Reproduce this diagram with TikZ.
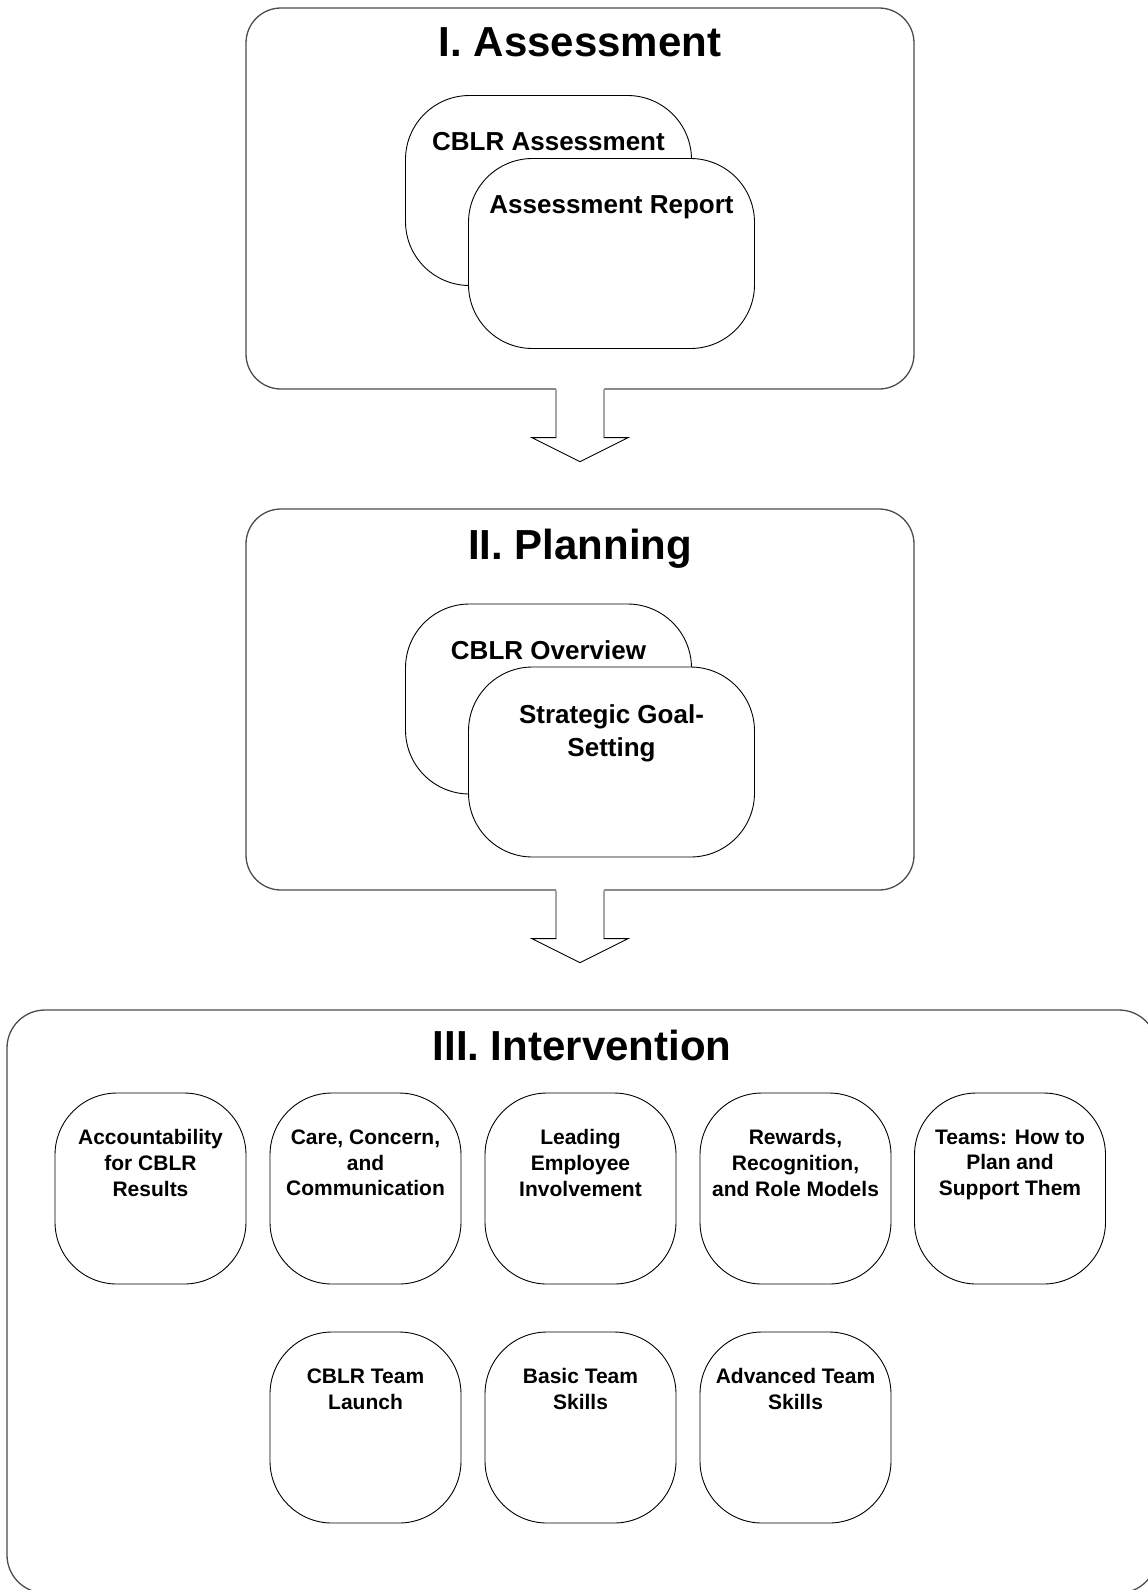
\documentclass[tikz,border=0pt]{standalone}
\usepackage{fontspec}
\setmainfont{Liberation Sans}
\usetikzlibrary{calc,positioning}
\tikzset{
  phase box/.style={rectangle,draw=black!70,fill=white,line width=1.3pt,
    rounded corners=35pt,inner sep=0pt,minimum width=668pt,minimum height=381pt},
  phase title/.style={inner sep=0pt,font=\fontsize{42}{50}\selectfont\bfseries},
  phase arrow/.style={draw=black,line width=0.9pt,line join=miter},
  part box/.style={rectangle,draw=black,fill=white,line width=0.9pt,
    rounded corners=64pt,inner sep=0pt,minimum width=286pt,minimum height=190pt},
  part text/.style={inner sep=0pt,align=center,
    font=\fontsize{26}{33}\selectfont\bfseries},
  module box/.style={rectangle,draw=black,fill=white,line width=0.9pt,
    rounded corners=62pt,inner sep=0pt,minimum width=191pt,minimum height=191pt},
  module text/.style={inner sep=0pt,align=center,
    font=\fontsize{21}{25.7}\selectfont\bfseries}
}
\begin{document}
\begin{tikzpicture}[x=1pt,y=-1pt]
  \useasboundingbox (0,0) rectangle (1148,1590);
  \clip (0,0) rectangle (1148,1590);
  % phases
  \node[phase box] (assess) at (580,198.5) {};
  \node[phase box] (plan) at (580,699.5) {};
  \node[phase box,minimum width=1150pt,minimum height=583pt,rounded corners=38pt]
    (interv) at (582,1301.5) {};
  \node[phase title,below=20pt of assess.north] (assess-t) {I. Assessment};
  \node[phase title,below=21pt of plan.north] (plan-t) {II. Planning};
  \node[phase title,below=21pt of interv.north] (interv-t) {III. Intervention};
  % block arrows between the phases
  \foreach \from in {assess,plan} {
    \fill[white] ($(\from.south)+(-24,-2)$) -- ++(0,50) -- ++(-24,0)
      -- ++(48,24) -- ++(48,-24) -- ++(-24,0) -- ++(0,-50) -- cycle;
    \draw[phase arrow] ($(\from.south)+(-24,0)$) -- ++(0,48) -- ++(-24,0)
      -- ++(48,24) -- ++(48,-24) -- ++(-24,0) -- ++(0,-48);
  }
  % assessment and planning parts
  \node[part box] (cblrassess) at (548.5,190.5) {};
  \node[part text,below=37pt of cblrassess.north] (cblrassess-t) {CBLR Assessment};
  \node[part box] (report) at (611.5,253.5) {};
  \node[part text,below=37pt of report.north] (report-t) {Assessment Report};
  \node[part box] (overview) at (548.5,699) {};
  \node[part text,below=37pt of overview.north] (overview-t) {CBLR Overview};
  \node[part box] (goals) at (611.5,762) {};
  \node[part text,below=38pt of goals.north] (goals-t) {Strategic Goal-\\Setting};
  % intervention modules
  \foreach \name/\x/\y/\txt in {
      acct/150.5/1188.5/{Accountability\\for CBLR\\Results},
      care/365.5/1188.5/{Care, Concern,\\and\\Communication},
      involve/580.5/1188.5/{Leading\\Employee\\Involvement},
      rewards/795.5/1188.5/{Rewards,\\Recognition,\\and Role Models},
      teams/1010/1188.5/{Teams: How to\\Plan and\\Support Them},
      launch/365.5/1427.5/{CBLR Team\\Launch},
      basic/580.5/1427.5/{Basic Team\\Skills},
      advanced/795.5/1427.5/{Advanced Team\\Skills}} {
    \node[module box] (\name) at (\x,\y) {};
    \node[module text,below=37pt of \name.north] (\name-t) {\txt};
  }
\end{tikzpicture}
\end{document}
